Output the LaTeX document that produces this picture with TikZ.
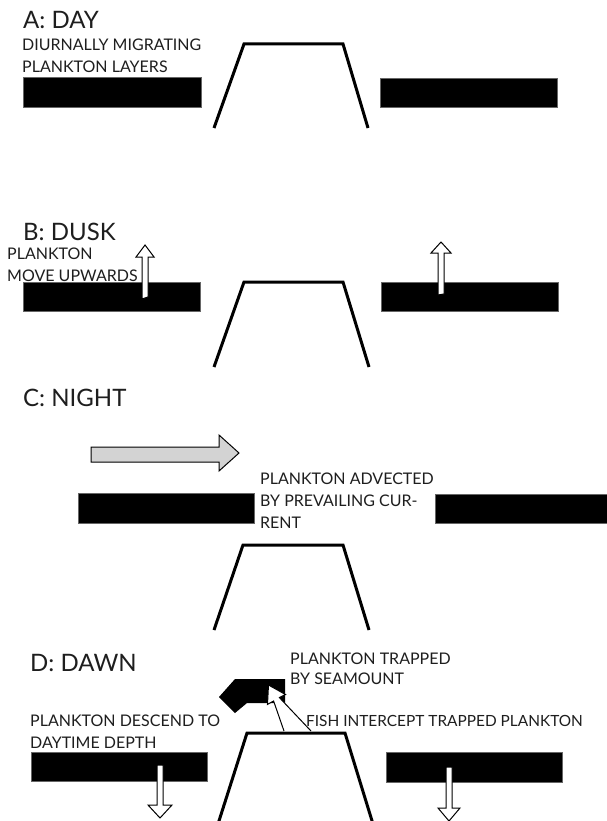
\documentclass[tikz,border=0pt]{standalone}
\usepackage{fontspec}
\setmainfont{Lato}
\definecolor{txt}{RGB}{30,30,30}
\definecolor{lightgr}{RGB}{211,211,211}
\begin{document}
\begin{tikzpicture}[x=1pt,y=-1pt,
  bar/.style={fill=black,draw=black!60,line width=0.4pt},
  mount/.style={draw=black,line width=3pt,line join=miter},
  whitearrow/.style={fill=white,draw=black,line width=1pt,line join=miter},
  grayarrow/.style={fill=lightgr,draw=black,line width=1pt,line join=miter},
  title/.style={anchor=north west,inner sep=0pt,font=\fontsize{24}{28}\selectfont,text=txt},
  label/.style={anchor=north west,inner sep=0pt,align=left,font=\fontsize{16}{21.5}\selectfont,text=txt}]
\useasboundingbox (0,0) rectangle (606,821);
\fill[white] (0,0) rectangle (606,821);

% ---------- A: DAY ----------
\node[title] (tA) at (23,11) {A: DAY};
\node[label] (lA) at (22,39) {DIURNALLY MIGRATING\\PLANKTON LAYERS};
\filldraw[bar] (23,77) rectangle (201,107);
\filldraw[bar] (380,78) rectangle (557,107);
\draw[mount] (214,128) -- (244,44) -- (343,44) -- (368,128);

% ---------- B: DUSK ----------
\node[title] (tB) at (23,223) {B: DUSK};
\node[label] (lB) at (7,248) {PLANKTON\\MOVE UPWARDS};
\filldraw[bar] (23,282) rectangle (200,311);
\filldraw[bar] (381,282) rectangle (558,311);
\draw[mount] (214,367) -- (244,282) -- (343,282) -- (369,367);
\draw[whitearrow] (142,299) -- (142,257) -- (136,257) -- (145,245) -- (154,257) -- (148,257) -- (148,297) -- cycle;
\draw[whitearrow] (438,295) -- (438,253) -- (431,253) -- (441,242) -- (451,253) -- (444,253) -- (444,294) -- cycle;

% ---------- C: NIGHT ----------
\node[title] (tC) at (23,389) {C: NIGHT};
\draw[grayarrow] (91,447) -- (219,447) -- (219,435) -- (239,453) -- (219,471) -- (219,462) -- (91,462) -- cycle;
\node[label,font=\fontsize{16}{22}\selectfont] (lC) at (260,473) {PLANKTON ADVECTED\\BY PREVAILING CUR-\\RENT};
\filldraw[bar] (78,493) rectangle (254,523);
\filldraw[bar] (435,494) rectangle (610,523);
\draw[mount] (214,630) -- (243,545) -- (343,545) -- (369,630);

% ---------- D: DAWN ----------
\node[title] (tD) at (30,654) {D: DAWN};
\node[label,font=\fontsize{16}{22}\selectfont] (lD) at (30,715) {PLANKTON DESCEND TO\\DAYTIME DEPTH};
\node[label,font=\fontsize{16}{20}\selectfont] (lT) at (290,653) {PLANKTON TRAPPED\\BY SEAMOUNT};
\node[label,font=\fontsize{15.4}{20}\selectfont] (lF) at (306,715) {FISH INTERCEPT TRAPPED PLANKTON};
\filldraw[bar] (31,752) rectangle (207,781);
\filldraw[bar] (386,752) rectangle (562,782);
\draw[mount] (218,824) -- (247,733) -- (345,733) -- (373,824);
\fill[black] (219,697) -- (235,679) -- (285,679) -- (285,703) -- (247,703) -- (235,713) -- cycle;
\draw[whitearrow] (284,731) -- (273.6,701) -- (267.5,704.4) -- (268.5,685) -- (285.5,694.5) -- (279.4,697.6) -- (311,731);
\draw[whitearrow] (157,765) -- (157,805) -- (148,805) -- (160,818) -- (172,805) -- (163,805) -- (163,765) -- cycle;
\draw[whitearrow] (446,767) -- (446,808) -- (438,808) -- (449,821) -- (460,808) -- (452,808) -- (452,767) -- cycle;
\end{tikzpicture}
\end{document}
